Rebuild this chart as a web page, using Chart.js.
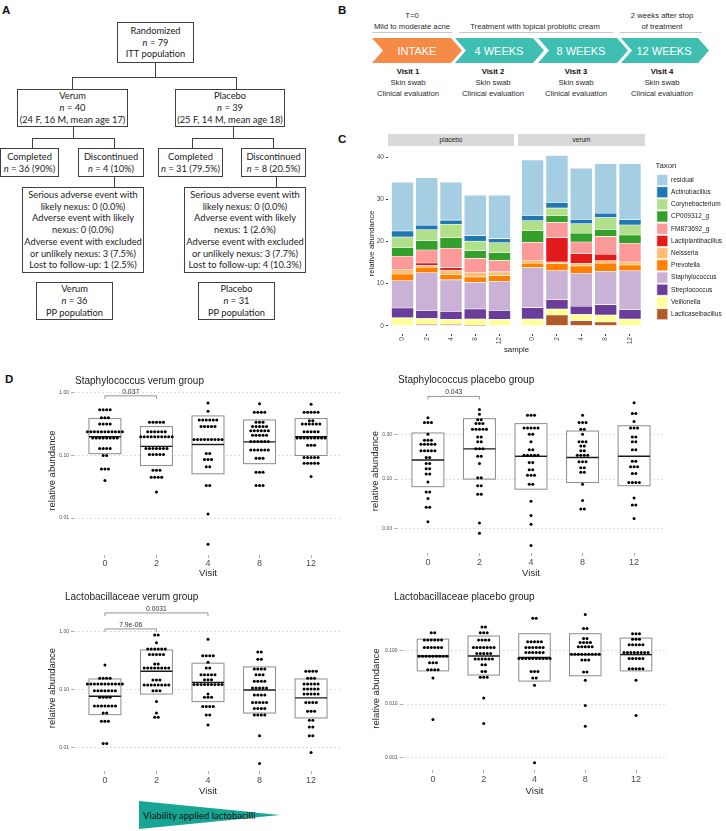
<!DOCTYPE html>
<html lang="en">
<head>
<meta charset="utf-8">
<title>Topical probiotic cream study</title>
<script src="https://cdn.jsdelivr.net/npm/chart.js@4.4.1/dist/chart.umd.min.js"></script>
<style>
  html, body { margin: 0; padding: 0; background: #fff; }
  #page { position: relative; width: 726px; height: 831px; overflow: hidden; font-family: "Liberation Sans", Arial, sans-serif; color: #222; }
  .abs { position: absolute; }
  .lbl { position: absolute; font-weight: bold; font-size: 11.5px; line-height: 12px; color: #111; }
  .box { position: absolute; box-sizing: border-box; border: 1px solid #404040; display: flex; align-items: center; justify-content: center; text-align: center; font-family: Lato, sans-serif; font-size: 9.3px; line-height: 11.8px; color: #222; white-space: nowrap; background: #fff; }
  .strip { position: absolute; background: #d9d9d9; font-size: 6.5px; line-height: 12px; text-align: center; color: #1a1a1a; }
  .ptitle { position: absolute; font-size: 10px; line-height: 12px; color: #222; white-space: nowrap; }
  canvas { position: absolute; }
  svg text { font-family: "Liberation Sans", Arial, sans-serif; }
</style>
</head>
<body>
<div id="page">

<svg class="abs" style="left:0;top:0" width="726" height="831">
  <!-- A : liaisons de l'organigramme -->
  <g stroke="#404040" stroke-width="1" fill="none" shape-rendering="crispEdges">
    <polyline points="155.5,63 155.5,77.5"/>
    <polyline points="72.5,89 72.5,77.5 236.5,77.5 236.5,89"/>
    <polyline points="73.5,127 73.5,138.5"/>
    <polyline points="32.5,148 32.5,138.5 114.5,138.5 114.5,148"/>
    <polyline points="233.5,127 233.5,138.5"/>
    <polyline points="192.5,148 192.5,138.5 273.5,138.5 273.5,148"/>
    <polyline points="114.5,177 114.5,187"/>
    <polyline points="276.5,177 276.5,187"/>
  </g>

  <!-- B : frise des visites -->
  <g stroke="#c8c8c8" stroke-width="1" shape-rendering="crispEdges">
    <line x1="372" y1="32.5" x2="452" y2="32.5"/>
    <line x1="459" y1="32.5" x2="613" y2="32.5"/>
    <line x1="620" y1="32.5" x2="702" y2="32.5"/>
  </g>
  <polygon fill="#f68b47" points="372,38 451,38 462,50.5 451,63 372,63 383,50.5"/>
  <polygon fill="#3fbfb1" points="455,38 533,38 544,50.5 533,63 455,63 466,50.5"/>
  <polygon fill="#3fbfb1" points="538,38 617,38 628,50.5 617,63 538,63 549,50.5"/>
  <polygon fill="#3fbfb1" points="621,38 698,38 709,50.5 698,63 621,63 632,50.5"/>
  <g font-size="11" fill="#ffffff" text-anchor="middle">
    <text x="417" y="54.5">INTAKE</text>
    <text x="499" y="54.5">4 WEEKS</text>
    <text x="581" y="54.5">8 WEEKS</text>
    <text x="664" y="54.5">12 WEEKS</text>
  </g>
  <g font-size="7.7" fill="#2a2a2a" text-anchor="middle">
    <text x="412" y="17.7">T=0</text>
    <text x="412" y="28.7">Mild to moderate acne</text>
    <text x="535" y="28.7">Treatment with topical probiotic cream</text>
    <text x="662" y="17.7">2 weeks after stop</text>
    <text x="662" y="28.7">of treatment</text>
    <text x="408" y="73.7" font-weight="bold" fill="#111111">Visit 1</text>
    <text x="408" y="84.7">Skin swab</text>
    <text x="408" y="95.7">Clinical evaluation</text>
    <text x="493" y="73.7" font-weight="bold" fill="#111111">Visit 2</text>
    <text x="493" y="84.7">Skin swab</text>
    <text x="493" y="95.7">Clinical evaluation</text>
    <text x="576" y="73.7" font-weight="bold" fill="#111111">Visit 3</text>
    <text x="576" y="84.7">Skin swab</text>
    <text x="576" y="95.7">Clinical evaluation</text>
    <text x="662" y="73.7" font-weight="bold" fill="#111111">Visit 4</text>
    <text x="662" y="84.7">Skin swab</text>
    <text x="662" y="95.7">Clinical evaluation</text>
  </g>

  <!-- D : viabilité des lactobacilles -->
  <polygon fill="#19a593" points="139,801 139,829 280,815"/>
  <text x="143" y="818.5" style="font-family:Lato,sans-serif" font-size="9.5" fill="#111111">Viability applied lactobacilli</text>
</svg>

<div class="lbl" style="left:2px;top:4px">A</div>
<div class="lbl" style="left:338px;top:4px">B</div>
<div class="lbl" style="left:338px;top:133px">C</div>
<div class="lbl" style="left:5px;top:373px">D</div>

<!-- A : cases -->
<div class="box" style="left:117px;top:22px;width:77px;height:41px"><span>Randomized<br><i>n</i> = 79<br>ITT population</span></div>
<div class="box" style="left:17px;top:89px;width:111px;height:38px"><span>Verum<br><i>n</i> = 40<br>(24 F, 16 M, mean age 17)</span></div>
<div class="box" style="left:175px;top:89px;width:110px;height:38px"><span>Placebo<br><i>n</i> = 39<br>(25 F, 14 M, mean age 18)</span></div>
<div class="box" style="left:0px;top:148px;width:59px;height:29px"><span>Completed<br><i>n</i> = 36 (90%)</span></div>
<div class="box" style="left:78px;top:148px;width:66px;height:29px"><span>Discontinued<br><i>n</i> = 4 (10%)</span></div>
<div class="box" style="left:158px;top:148px;width:65px;height:29px"><span>Completed<br><i>n</i> = 31 (79.5%)</span></div>
<div class="box" style="left:241px;top:148px;width:65px;height:29px"><span>Discontinued<br><i>n</i> = 8 (20.5%)</span></div>
<div class="box" style="left:22px;top:187px;width:122px;height:86px"><span>Serious adverse event with<br>likely nexus: 0 (0.0%)<br>Adverse event with likely<br>nexus: 0 (0.0%)<br>Adverse event with excluded<br>or unlikely nexus: 3 (7.5%)<br>Lost to follow-up: 1 (2.5%)</span></div>
<div class="box" style="left:184px;top:187px;width:122px;height:86px"><span>Serious adverse event with<br>likely nexus: 0 (0.0%)<br>Adverse event with likely<br>nexus: 1 (2.6%)<br>Adverse event with excluded<br>or unlikely nexus: 3 (7.7%)<br>Lost to follow-up: 4 (10.3%)</span></div>
<div class="box" style="left:36px;top:282px;width:77px;height:38px"><span>Verum<br><i>n</i> = 36<br>PP population</span></div>
<div class="box" style="left:198px;top:282px;width:77px;height:38px"><span>Placebo<br><i>n</i> = 31<br>PP population</span></div>

<!-- C -->
<div class="strip" style="left:388px;top:134px;width:126px;height:12px">placebo</div>
<div class="strip" style="left:518px;top:134px;width:127px;height:12px">verum</div>
<canvas id="cPlacebo" width="154" height="205" style="left:360px;top:147px"></canvas>
<canvas id="cVerum" width="208" height="205" style="left:518px;top:147px"></canvas>
<div class="abs" style="left:476px;top:344px;width:81px;text-align:center;font-size:7.8px;line-height:12px;color:#222">sample</div>

<!-- D -->
<canvas id="dStaphVerum" width="363" height="199" style="left:0px;top:380px"></canvas>
<canvas id="dStaphPlacebo" width="363" height="199" style="left:363px;top:380px"></canvas>
<canvas id="dLactoVerum" width="363" height="199" style="left:0px;top:598px"></canvas>
<canvas id="dLactoPlacebo" width="363" height="199" style="left:363px;top:598px"></canvas>
<div class="ptitle" style="left:75px;top:375px">Staphylococcus verum group</div>
<div class="ptitle" style="left:398px;top:374px">Staphylococcus placebo group</div>
<div class="ptitle" style="left:65px;top:591px">Lactobacillaceae verum group</div>
<div class="ptitle" style="left:394px;top:591px">Lactobacillaceae placebo group</div>

</div>

<script>
// ---------- données C : abondance relative par taxon ----------
const visits = ['0', '2', '4', '8', '12'];
const abundanceTicks = [0, 10, 20, 30, 40];
// ordre d'empilement, du bas vers le haut
const taxa = ['Lacticaseibacillus', 'Veillonella', 'Streptococcus', 'Staphylococcus', 'Prevotella', 'Neisseria',
  'Lactiplantibacillus', 'FM873692_g', 'CP009312_g', 'Corynebacterium', 'Actinobacillus', 'residual'];
const taxonColors = ['#b15928', '#ffff99', '#6a3d9a', '#cab2d6', '#ff7f00', '#fdbf6f',
  '#e31a1c', '#fb9a99', '#33a02c', '#b2df8a', '#1f78b4', '#a6cee3'];
// 5 valeurs placebo (0,2,4,8,12) puis 5 valeurs verum
const lacticaseibacillus = [0, 0.3, 0.3, 0.1, 0, 0, 2.4, 1.1, 0.8, 0];
const veillonella = [1.9, 1.4, 1.2, 1.5, 1.5, 1.5, 1.4, 1.4, 1.6, 1.5];
const streptococcus = [2.3, 1.9, 1.9, 2.4, 2.1, 2.6, 2.1, 1.9, 2.4, 2.1];
const staphylococcus = [6.5, 9.0, 7.5, 6.3, 6.9, 9.2, 6.7, 7.6, 7.6, 9.0];
const prevotella = [1.6, 1.3, 1.3, 1.3, 1.4, 1.0, 1.6, 1.7, 1.9, 1.3];
const neisseria = [1.0, 0.4, 1.0, 1.0, 0.9, 0.7, 0.4, 0.6, 0.6, 0.7];
const lactiplantibacillus = [0, 0.6, 0.6, 0, 0, 0, 5.6, 2.2, 1.5, 0];
const fm873692 = [3.2, 3.1, 4.6, 3.4, 2.7, 4.1, 3.5, 2.7, 4.1, 4.3];
const cp009312 = [2.1, 2.2, 2.5, 1.8, 1.9, 2.7, 1.6, 2.0, 1.6, 1.9];
const corynebacterium = [2.5, 2.6, 3.2, 2.3, 2.3, 2.3, 1.7, 2.2, 2.7, 2.3];
const actinobacillus = [1.4, 1.1, 1.0, 1.3, 1.0, 1.2, 1.3, 1.0, 1.0, 1.2];
const residual = [11.6, 11.3, 9.0, 9.6, 10.3, 12.8, 10.8, 11.8, 11.4, 12.9];
const taxonValues = [lacticaseibacillus, veillonella, streptococcus, staphylococcus, prevotella, neisseria,
  lactiplantibacillus, fm873692, cp009312, corynebacterium, actinobacillus, residual];

// ---------- données D : points [valeur, nombre] par visite, puis boîtes ----------
const staphVerumDots = [
  [[0.54, 4], [0.40, 3], [0.32, 4], [0.24, 11], [0.19, 8], [0.13, 4], [0.10, 2], [0.061, 3], [0.040, 1]],
  [[0.34, 5], [0.24, 6], [0.20, 10], [0.13, 7], [0.104, 5], [0.058, 3], [0.045, 4], [0.026, 1]],
  [[0.69, 1], [0.51, 1], [0.37, 6], [0.29, 5], [0.18, 9], [0.108, 2], [0.086, 3], [0.066, 2], [0.033, 2], [0.0116, 1], [0.0038, 1]],
  [[0.67, 1], [0.49, 4], [0.34, 3], [0.29, 5], [0.25, 6], [0.21, 5], [0.167, 6], [0.122, 6], [0.090, 3], [0.054, 3], [0.033, 3]],
  [[0.66, 1], [0.49, 5], [0.36, 2], [0.32, 6], [0.24, 5], [0.19, 9], [0.146, 3], [0.093, 5], [0.075, 5], [0.046, 1]]
];
const staphVerumQ1 = [0.107, 0.069, 0.051, 0.074, 0.10];
const staphVerumMedian = [0.20, 0.14, 0.15, 0.165, 0.20];
const staphVerumQ3 = [0.39, 0.29, 0.43, 0.37, 0.39];

const staphPlaceboDots = [
  [[0.45, 1], [0.40, 3], [0.30, 1], [0.26, 3], [0.235, 5], [0.20, 5], [0.17, 2], [0.147, 2], [0.129, 2], [0.113, 2], [0.093, 1], [0.073, 2], [0.062, 1], [0.050, 2], [0.035, 1]],
  [[0.55, 1], [0.49, 1], [0.43, 2], [0.39, 3], [0.34, 5], [0.28, 2], [0.25, 2], [0.21, 3], [0.175, 2], [0.147, 1], [0.103, 2], [0.085, 2], [0.069, 2], [0.034, 1], [0.0265, 1]],
  [[0.48, 3], [0.35, 5], [0.30, 2], [0.25, 1], [0.206, 2], [0.18, 5], [0.15, 2], [0.126, 2], [0.11, 3], [0.088, 2], [0.058, 1], [0.041, 1], [0.033, 1], [0.0196, 1]],
  [[0.48, 1], [0.40, 3], [0.34, 2], [0.30, 1], [0.25, 3], [0.225, 2], [0.20, 2], [0.18, 4], [0.153, 3], [0.132, 2], [0.118, 2], [0.088, 1], [0.059, 1], [0.048, 2]],
  [[0.65, 1], [0.50, 2], [0.41, 1], [0.35, 3], [0.28, 2], [0.25, 2], [0.206, 2], [0.155, 2], [0.135, 3], [0.115, 2], [0.092, 4], [0.063, 1], [0.053, 2], [0.038, 1]]
];
const staphPlaceboQ1 = [0.083, 0.10, 0.078, 0.092, 0.085];
const staphPlaceboMedian = [0.16, 0.21, 0.175, 0.17, 0.175];
const staphPlaceboQ3 = [0.31, 0.44, 0.39, 0.325, 0.37];

const lactoVerumDots = [
  [[0.27, 1], [0.16, 4], [0.127, 11], [0.097, 7], [0.075, 4], [0.053, 7], [0.040, 2], [0.029, 3], [0.012, 2]],
  [[0.89, 2], [0.65, 1], [0.51, 6], [0.41, 5], [0.28, 2], [0.24, 8], [0.149, 3], [0.122, 8], [0.097, 3], [0.063, 1], [0.040, 1], [0.034, 2]],
  [[0.75, 1], [0.39, 4], [0.30, 1], [0.24, 2], [0.184, 5], [0.15, 3], [0.124, 9], [0.085, 1], [0.075, 3], [0.052, 4], [0.037, 2], [0.025, 1]],
  [[0.45, 2], [0.34, 2], [0.23, 4], [0.184, 3], [0.141, 4], [0.108, 5], [0.082, 4], [0.061, 5], [0.048, 4], [0.037, 4], [0.0163, 1], [0.0054, 1]],
  [[0.21, 4], [0.16, 3], [0.127, 5], [0.104, 5], [0.085, 5], [0.061, 4], [0.043, 3], [0.030, 2], [0.023, 2], [0.0163, 2], [0.0084, 1]]
];
const lactoVerumQ1 = [0.0376, 0.085, 0.063, 0.040, 0.033];
const lactoVerumMedian = [0.078, 0.21, 0.135, 0.10, 0.073];
const lactoVerumQ3 = [0.155, 0.49, 0.29, 0.25, 0.155];

const lactoPlaceboDots = [
  [[0.22, 2], [0.16, 6], [0.116, 6], [0.079, 9], [0.060, 3], [0.044, 4], [0.031, 1], [0.0051, 1]],
  [[0.28, 2], [0.22, 3], [0.16, 4], [0.116, 7], [0.089, 5], [0.070, 6], [0.055, 2], [0.041, 2], [0.032, 3], [0.013, 1], [0.0043, 1]],
  [[0.41, 2], [0.148, 5], [0.116, 6], [0.093, 6], [0.072, 10], [0.041, 3], [0.031, 2], [0.0225, 1], [0.00079, 1]],
  [[0.485, 1], [0.263, 2], [0.171, 2], [0.144, 4], [0.119, 5], [0.086, 9], [0.067, 3], [0.040, 2], [0.028, 1], [0.0094, 1], [0.0038, 1]],
  [[0.21, 3], [0.166, 3], [0.13, 5], [0.093, 8], [0.072, 5], [0.046, 5], [0.028, 1], [0.0061, 1]]
];
const lactoPlaceboQ1 = [0.042, 0.035, 0.027, 0.034, 0.042];
const lactoPlaceboMedian = [0.080, 0.080, 0.075, 0.085, 0.085];
const lactoPlaceboQ3 = [0.166, 0.19, 0.21, 0.21, 0.174];

// comparaisons (p-values) : de la visite i à la visite j, hauteur en unités de l'axe
const staphVerumTests = [{ from: 0, to: 1, at: 0.9, label: '0.037' }];
const staphPlaceboTests = [{ from: 0, to: 1, at: 0.76, label: '0.043' }];
const lactoVerumTests = [{ from: 0, to: 2, at: 2.13, label: '0.0031' }, { from: 0, to: 1, at: 1.13, label: '7.9e-06' }];
const lactoPlaceboTests = [];

// ---------- réglages communs ----------
Chart.defaults.font.family = '"Liberation Sans", Arial, sans-serif';
Chart.defaults.color = '#222';
Chart.defaults.animation = false;
Chart.defaults.events = [];
Chart.defaults.plugins.legend.display = false;
Chart.defaults.plugins.tooltip.enabled = false;

const tickGrey = '#4d4d4d';

// ---------- C : barres empilées ----------
function taxonDatasets(g) {
  return taxa.map((name, t) => ({
    label: name,
    data: taxonValues[t].slice(g * 5, g * 5 + 5).map((v, i) => ({ x: i, y: v })),
    backgroundColor: taxonColors[t],
    borderColor: '#ffffff',
    borderWidth: 0.6,
    borderSkipped: false,
    barThickness: 22
  }));
}

function sampleAxis() {
  return {
    type: 'linear', min: -0.6, max: 4.6, offset: false, stacked: true,
    afterBuildTicks: s => { s.ticks = visits.map((v, i) => ({ value: i })); },
    ticks: { callback: (v, i) => visits[i], minRotation: 90, maxRotation: 90, autoSkip: false, font: { size: 6.6 }, color: tickGrey, padding: 1 },
    grid: { drawOnChartArea: false, offset: false, tickLength: 2, tickColor: '#333' },
    border: { display: false },
    afterFit: s => { s.height = 18; }
  };
}

new Chart(document.getElementById('cPlacebo'), {
  type: 'bar',
  data: { datasets: taxonDatasets(0) },
  options: {
    responsive: false,
    layout: { padding: { left: 7.3, top: 0, right: 0, bottom: 0 } },
    scales: {
      x: sampleAxis(),
      y: {
        min: -1.96, max: 41.06, stacked: true,
        afterBuildTicks: s => { s.ticks = abundanceTicks.map(v => ({ value: v })); },
        ticks: { font: { size: 6.6 }, color: tickGrey, padding: 2 },
        grid: { drawOnChartArea: false, tickLength: 2, tickColor: '#333' },
        border: { display: false },
        title: { display: true, text: 'relative abundance', font: { size: 7.8 }, color: '#222', padding: 0 },
        afterFit: s => { s.width = 20.7; }
      }
    }
  }
});

// largeur du canvas verum : zone de tracé + marge + légende (Chart.js ajoute 10 px aux légendes verticales)
const legendFont = 6.5;
const measure = document.createElement('canvas').getContext('2d');
measure.font = legendFont + 'px "Liberation Sans", Arial, sans-serif';
const widest = Math.max(...taxa.map(t => measure.measureText(t).width));
const legendWidth = 1.2 + 11 + legendFont / 2 + widest + 10;
const verumCanvas = document.getElementById('cVerum');
verumCanvas.width = Math.round(127 + 11 + legendWidth);

new Chart(verumCanvas, {
  type: 'bar',
  data: { datasets: taxonDatasets(1) },
  options: {
    responsive: false,
    layout: { padding: 0 },
    scales: {
      x: sampleAxis(),
      y: {
        position: 'right', min: -1.96, max: 41.06, stacked: true,
        ticks: { display: false },
        grid: { display: false },
        border: { display: false },
        afterFit: s => { s.width = 11; }
      }
    },
    plugins: {
      legend: {
        display: true, position: 'right', align: 'start', reverse: true,
        maxWidth: Math.ceil(legendWidth) + 20,
        title: { display: true, text: 'Taxon', position: 'start', color: '#222', font: { size: 7.8 }, padding: { top: 14.8, bottom: 2.1 } },
        labels: { boxWidth: 11, boxHeight: 11, padding: 1.2, font: { size: legendFont }, color: '#1a1a1a' }
      }
    }
  }
});

// ---------- D : dotplots + boîtes ----------
const dotStep = 0.068;
const boxWidth = 0.62;

function dotPoints(bins) {
  const pts = [];
  bins.forEach((rows, i) => {
    rows.forEach(([value, count]) => {
      for (let k = 0; k < count; k++) {
        pts.push({ x: i + (k - (count - 1) / 2) * dotStep, y: value });
      }
    });
  });
  return pts;
}

function boxPlugin(q1, med, q3, tests) {
  return {
    id: 'boxes',
    beforeDatasetsDraw(chart) {
      const { ctx, scales: { x, y } } = chart;
      ctx.save();
      q1.forEach((lo, i) => {
        const left = x.getPixelForValue(i - boxWidth / 2);
        const right = x.getPixelForValue(i + boxWidth / 2);
        const top = y.getPixelForValue(q3[i]);
        const bottom = y.getPixelForValue(lo);
        ctx.fillStyle = '#fff';
        ctx.fillRect(left, top, right - left, bottom - top);
        ctx.strokeStyle = '#8c8c8c';
        ctx.lineWidth = 1;
        ctx.strokeRect(left, top, right - left, bottom - top);
        const m = y.getPixelForValue(med[i]);
        ctx.strokeStyle = '#1a1a1a';
        ctx.lineWidth = 1.4;
        ctx.beginPath();
        ctx.moveTo(left, m);
        ctx.lineTo(right, m);
        ctx.stroke();
      });
      ctx.restore();
    },
    afterDatasetsDraw(chart) {
      const { ctx, scales: { x, y } } = chart;
      ctx.save();
      tests.forEach(t => {
        const x1 = x.getPixelForValue(t.from);
        const x2 = x.getPixelForValue(t.to);
        const yy = y.getPixelForValue(t.at);
        ctx.strokeStyle = '#7a7a7a';
        ctx.lineWidth = 0.8;
        ctx.beginPath();
        ctx.moveTo(x1, yy + 3);
        ctx.lineTo(x1, yy);
        ctx.lineTo(x2, yy);
        ctx.lineTo(x2, yy + 3);
        ctx.stroke();
        ctx.fillStyle = '#333';
        ctx.font = '6.8px "Liberation Sans", Arial, sans-serif';
        ctx.textAlign = 'center';
        ctx.textBaseline = 'bottom';
        ctx.fillText(t.label, (x1 + x2) / 2, yy - 0.5);
      });
      ctx.restore();
    }
  };
}

function dotChart(id, dots, q1, med, q3, tests, frame) {
  return new Chart(document.getElementById(id), {
    type: 'scatter',
    data: {
      datasets: [{
        data: dotPoints(dots),
        pointRadius: 1.5,
        pointBackgroundColor: '#000',
        pointBorderWidth: 0
      }]
    },
    options: {
      responsive: false,
      layout: { padding: frame.pad },
      scales: {
        x: {
          type: 'linear', min: -0.6, max: 4.6,
          afterBuildTicks: s => { s.ticks = visits.map((v, i) => ({ value: i })); },
          ticks: { callback: (v, i) => visits[i], maxRotation: 0, autoSkip: false, font: { size: 9 }, color: tickGrey, padding: frame.xPad },
          grid: { drawOnChartArea: false, tickLength: 3, tickColor: '#b0b0b0' },
          border: { display: false },
          title: { display: true, text: 'Visit', font: { size: 9.5 }, color: '#222', padding: 0 },
          afterFit: s => { s.height = frame.xHeight; }
        },
        y: {
          type: 'logarithmic', min: frame.yMin, max: frame.yMax,
          afterBuildTicks: s => { s.ticks = frame.yTicks.map(v => ({ value: v })); },
          ticks: { callback: (v, i) => frame.yLabels[i], font: { size: 5 }, color: tickGrey, padding: 2 },
          grid: { color: '#d6d6d6', lineWidth: 0.8, tickLength: 3, tickColor: '#9a9a9a' },
          border: { display: false, dash: [2, 2] },
          title: { display: true, text: 'relative abundance', font: { size: 9.5 }, color: '#222', padding: 0 },
          afterFit: s => { s.width = frame.yWidth; }
        }
      }
    },
    plugins: [boxPlugin(q1, med, q3, tests)]
  });
}

dotChart('dStaphVerum', staphVerumDots, staphVerumQ1, staphVerumMedian, staphVerumQ3, staphVerumTests, {
  pad: { left: 46.3, top: 6, right: 21, bottom: 0 }, yWidth: 27.7, xHeight: 24, xPad: 0,
  yMin: 0.00256, yMax: 1.294, yTicks: [0.01, 0.1, 1], yLabels: ['0.01', '0.10', '1.00']
});
dotChart('dStaphPlacebo', staphPlaceboDots, staphPlaceboQ1, staphPlaceboMedian, staphPlaceboQ3, staphPlaceboTests, {
  pad: { left: 6.3, top: 9, right: 61, bottom: 0 }, yWidth: 27.7, xHeight: 26, xPad: 1.6,
  yMin: 0.0163, yMax: 0.912, yTicks: [0.03, 0.1, 0.3], yLabels: ['0.03', '0.10', '0.30']
});
dotChart('dLactoVerum', lactoVerumDots, lactoVerumQ1, lactoVerumMedian, lactoVerumQ3, lactoVerumTests, {
  pad: { left: 46.3, top: 7, right: 21, bottom: 0 }, yWidth: 27.7, xHeight: 26, xPad: 1.6,
  yMin: 0.00401, yMax: 2.92, yTicks: [0.01, 0.1, 1], yLabels: ['0.01', '0.10', '1.00']
});
dotChart('dLactoPlacebo', lactoPlaceboDots, lactoPlaceboQ1, lactoPlaceboMedian, lactoPlaceboQ3, lactoPlaceboTests, {
  pad: { left: 7.6, top: 9, right: 59.5, bottom: 0 }, yWidth: 31.9, xHeight: 27, xPad: 1.6,
  yMin: 0.000574, yMax: 0.668, yTicks: [0.001, 0.01, 0.1], yLabels: ['0.001', '0.010', '0.100']
});
</script>
</body>
</html>
